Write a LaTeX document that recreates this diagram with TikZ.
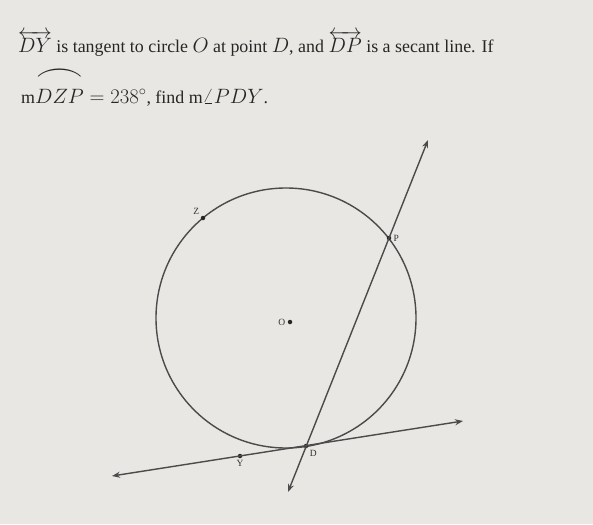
\documentclass[tikz,border=0pt]{standalone}
\usepackage{amsmath}
\usepackage{graphicx}
\usepackage{fontspec}
\setmainfont{Liberation Serif}
\usetikzlibrary{arrows.meta}
\definecolor{paper}{RGB}{232,231,227}
\definecolor{ink}{RGB}{75,75,75}
\newcommand{\mth}[1]{{\fontsize{22.5}{24}\selectfont$#1$}}

\begin{document}
\begin{tikzpicture}[x=1pt, y=-1pt,
    geo/.style = {draw=ink, line width=1.4pt},
    ray/.style = {geo, {Stealth[length=8pt,width=6pt]}-{Stealth[length=8pt,width=6pt]}},
    pt/.style = {circle, fill=black!85, inner sep=0pt, minimum size=4.5pt},
    lbl/.style = {font=\fontsize{9.5}{9.5}\selectfont, text=black!80, inner sep=2pt},
    question/.style = {anchor=base west, inner sep=0pt, text=black!85, font=\fontsize{17.9}{22}\selectfont}]
    \fill[paper] (0,0) rectangle (593,524);
    \useasboundingbox (0,0) rectangle (593,524);
    % question text
    \node[question] (q1) at (18,53) {\mth{\overleftrightarrow{DY}} is tangent to circle \mth{O} at point \mth{D}, and \mth{\overleftrightarrow{DP}} is a secant line. If};
    \node[question] (q2) at (21,103) {m\mth{\overset{\raisebox{3pt}{\scalebox{2.4}[1.6]{$\frown$}}}{DZP} = 238^\circ}, find m\mth{\angle PDY}.};
    % circle and points
    \draw[geo] (286,318) circle (130);
    \node[pt, label={[lbl]left:O}] (O) at (290,322) {};
    \node[pt, label={[lbl]above left:Z}] (Z) at (203,218) {};
    \node[pt, label={[lbl]right:P}] (P) at (389,238) {};
    \node[pt, label={[lbl]below right:D}] (D) at (306,446) {};
    \node[pt, label={[lbl]below:Y}] (Y) at (240,456) {};
    % ends of the lines
    \coordinate (tl) at (112,476);
    \coordinate (tr) at (463,421);
    \coordinate (st) at (428,140);
    \coordinate (sb) at (288,492);
    \draw[ray] (tl) -- (tr);
    \draw[ray] (sb) -- (st);
\end{tikzpicture}
\end{document}
